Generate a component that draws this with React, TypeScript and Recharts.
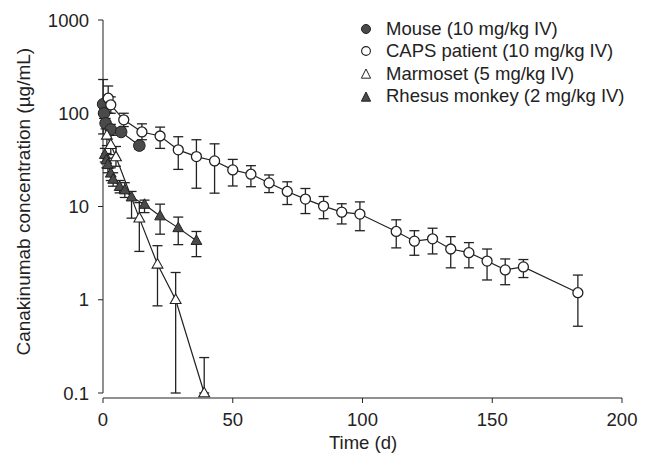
import React from 'react';
import { ScatterChart, Scatter, XAxis, YAxis, ErrorBar, ReferenceLine } from 'recharts';

// ---- Data (days, concentration µg/mL, error bar low / high) ----
const mouseDays = [0.05, 0.4, 1, 3, 7, 14];
const mouseConc = [125, 100, 78, 67, 63, 45];
const mouseLo = [60, 88, 68, 58, 58, 41];
const mouseHi = [230, 112, 88, 76, 69, 49];

const capsDays = [2, 3, 8, 15, 22, 29, 36, 43, 50, 57, 64, 71, 78, 85, 92, 99, 113, 120, 127, 134, 141, 148, 155, 162, 183];
const capsConc = [145, 123, 85, 63, 57, 40.5, 34.3, 30.8, 24.7, 22.2, 17.9, 14.5, 12, 10.1, 8.7, 8.3, 5.4, 4.25, 4.5, 3.5, 3.2, 2.6, 2.09, 2.25, 1.19];
const capsLo = [100, 100, 72, 52, 42, 25, 15.7, 13.9, 16.6, 16.3, 14.1, 10.5, 8.4, 7.4, 6.5, 5.5, 3.6, 3.0, 3.1, 2.2, 2.2, 1.63, 1.45, 1.73, 0.52];
const capsHi = [196, 150, 100, 77, 71, 56, 52, 47, 32, 27.4, 21.8, 18.4, 15.6, 12.8, 10.7, 11.2, 7.2, 5.5, 5.85, 4.75, 4.1, 3.5, 2.74, 2.7, 1.84];

const marmDays = [1.5, 3, 5, 14, 21, 28, 39];
const marmConc = [58, 46, 34, 7.5, 2.4, 1.0, 0.1];
const marmLo = [45, 36, 27, 3.3, 0.86, 0.1, 0.1];
const marmHi = [72, 58, 44, 11, 3.8, 1.96, 0.24];

const rhDays = [0.7, 1.3, 1.9, 3, 3.9, 6.4, 8.4, 11, 16, 22, 29, 36];
const rhConc = [36, 31.5, 28, 22.7, 19.5, 16.3, 15, 12.6, 10.5, 7.9, 5.9, 4.3];
const rhLo = [30, 26, 23, 19, 16.5, 14, 12.5, 7.5, 8.6, 5.05, 3.9, 2.9];
const rhHi = [42, 37, 33, 26, 23, 19, 18, 14.5, 11.7, 10.6, 7.7, 5.4];

const xTicks = [0, 50, 100, 150, 200];
const yTicks = [0.1, 1, 10, 100, 1000];
const yTickLabels = ['0.1', '1', '10', '100', '1000'];

const legendLabels = [
  'Mouse (10 mg/kg IV)',
  'CAPS patient (10 mg/kg IV)',
  'Marmoset (5 mg/kg IV)',
  'Rhesus monkey (2 mg/kg IV)',
];

// ---- Helpers ----
function build(days: number[], conc: number[], lo: number[], hi: number[]) {
  return days.map((d, i) => ({ x: d, y: conc[i], err: [conc[i] - lo[i], hi[i] - conc[i]] }));
}

const mouseData = build(mouseDays, mouseConc, mouseLo, mouseHi);
const capsData = build(capsDays, capsConc, capsLo, capsHi);
const marmData = build(marmDays, marmConc, marmLo, marmHi);
const rhData = build(rhDays, rhConc, rhLo, rhHi);

const INK = '#222';
const DARK = '#4a4a4a';
const FONT = "'Liberation Sans', Arial, Helvetica, sans-serif";
const FS = 18.5;

const triPts = (cx: number, cy: number) =>
  `${cx},${cy - 5.8} ${cx + 5.4},${cy + 3.8} ${cx - 5.4},${cy + 3.8}`;

const FilledCircle = (p: any) => (
  <circle cx={p.cx} cy={p.cy} r={5.8} fill={DARK} stroke={INK} strokeWidth={1} />
);
const OpenCircle = (p: any) => (
  <circle cx={p.cx} cy={p.cy} r={5} fill="#fff" stroke={INK} strokeWidth={1.3} />
);
const OpenTri = (p: any) => (
  <polygon points={triPts(p.cx, p.cy)} fill="#fff" stroke={INK} strokeWidth={1.1} />
);
const FilledTri = (p: any) => (
  <polygon points={triPts(p.cx, p.cy)} fill={DARK} stroke={INK} strokeWidth={1} />
);

const legendIcons = [
  <circle cx={8} cy={8} r={4.5} fill={DARK} stroke={INK} strokeWidth={1} />,
  <circle cx={8} cy={8} r={4.4} fill="#fff" stroke={INK} strokeWidth={1.1} />,
  <polygon points="8,3 12.6,12.2 3.4,12.2" fill="#fff" stroke={INK} strokeWidth={1} />,
  <polygon points="8,3 12.6,12.2 3.4,12.2" fill={DARK} stroke={INK} strokeWidth={1} />,
];

const YTick = (p: any) => {
  const idx = yTicks.indexOf(p.payload.value);
  return (
    <text x={p.x} y={p.y} textAnchor="end" dominantBaseline="central" fontSize={FS} fontFamily={FONT} fill={INK}>
      {idx >= 0 ? yTickLabels[idx] : p.payload.value}
    </text>
  );
};

export default function App() {
  const lineStyle = { stroke: INK, strokeWidth: 1.2 };
  const errStyle = { stroke: INK, strokeWidth: 1.3 };
  return (
    <div style={{ position: 'absolute', left: 0, top: 0, width: 648, height: 456, background: '#fff' }}>
      <ScatterChart width={648} height={456} margin={{ top: 20, right: 26, bottom: 0, left: 0 }}>
        <XAxis
          type="number"
          dataKey="x"
          domain={[0, 200]}
          ticks={xTicks}
          height={58}
          tickSize={5}
          tickMargin={10}
          stroke={INK}
          tick={{ fontSize: FS, fontFamily: FONT, fill: INK }}
          label={{
            content: () => (
              <text x={363} y={449} textAnchor="middle" fontSize={FS} fontFamily={FONT} fill={INK}>
                Time (d)
              </text>
            ),
          }}
        />
        <YAxis
          type="number"
          dataKey="y"
          scale="log"
          domain={[0.0884, 1000]}
          allowDataOverflow
          ticks={yTicks}
          width={103}
          tickSize={5}
          tickMargin={9}
          axisLine={false}
          tickLine={{ stroke: INK }}
          tick={<YTick />}
          label={{
            content: () => (
              <text
                x={30.5}
                y={201.7}
                transform="rotate(-90 30.5 201.7)"
                textAnchor="middle"
                fontSize={19}
                fontFamily={FONT}
                fill={INK}
              >
                Canakinumab concentration (µg/mL)
              </text>
            ),
          }}
        />
        <ReferenceLine segment={[{ x: 0, y: 0.1 }, { x: 0, y: 1000 }]} stroke={INK} strokeWidth={1} />
        <Scatter name={legendLabels[0]} data={mouseData} line={lineStyle} lineType="joint" shape={FilledCircle} isAnimationActive={false}>
          <ErrorBar dataKey="err" direction="y" width={5} {...errStyle} isAnimationActive={false} />
        </Scatter>
        <Scatter name={legendLabels[1]} data={capsData} line={lineStyle} lineType="joint" shape={OpenCircle} isAnimationActive={false}>
          <ErrorBar dataKey="err" direction="y" width={5} {...errStyle} isAnimationActive={false} />
        </Scatter>
        <Scatter name={legendLabels[2]} data={marmData} line={lineStyle} lineType="joint" shape={OpenTri} isAnimationActive={false}>
          <ErrorBar dataKey="err" direction="y" width={5} {...errStyle} isAnimationActive={false} />
        </Scatter>
        <Scatter name={legendLabels[3]} data={rhData} line={lineStyle} lineType="joint" shape={FilledTri} isAnimationActive={false}>
          <ErrorBar dataKey="err" direction="y" width={5} {...errStyle} isAnimationActive={false} />
        </Scatter>
      </ScatterChart>
      <div style={{ position: 'absolute', left: 358, top: 17.5, fontFamily: FONT, fontSize: FS, color: INK }}>
        {legendLabels.map((lab, i) => (
          <div key={lab} style={{ display: 'flex', alignItems: 'center', height: 22.6, lineHeight: '22.6px', whiteSpace: 'nowrap' }}>
            <svg width={16} height={16} style={{ marginRight: 12, display: 'block' }}>
              {legendIcons[i]}
            </svg>
            <span>{lab}</span>
          </div>
        ))}
      </div>
    </div>
  );
}
